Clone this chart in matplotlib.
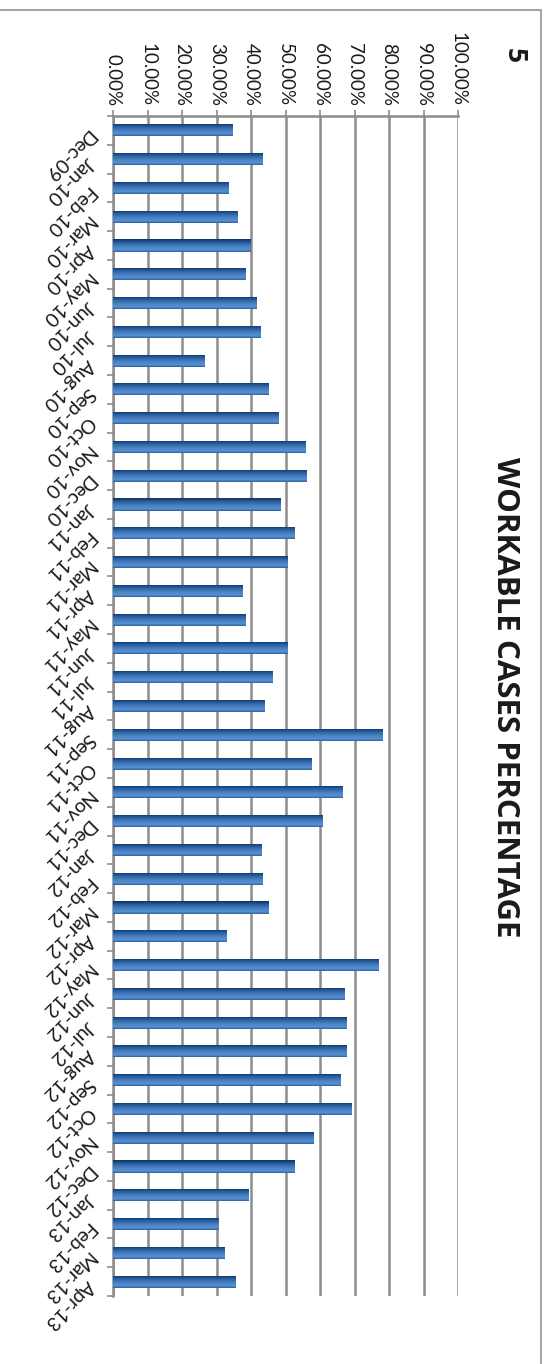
import numpy as np
import matplotlib
matplotlib.use("Agg")
from matplotlib import pyplot as plt
from matplotlib.colors import LinearSegmentedColormap
from matplotlib.patches import Rectangle
from matplotlib.transforms import offset_copy

months = ['Dec-09', 'Jan-10', 'Feb-10', 'Mar-10', 'Apr-10', 'May-10', 'Jun-10', 'Jul-10',
          'Aug-10', 'Sep-10', 'Oct-10', 'Nov-10', 'Dec-10', 'Jan-11', 'Feb-11', 'Mar-11',
          'Apr-11', 'May-11', 'Jun-11', 'Jul-11', 'Aug-11', 'Sep-11', 'Oct-11', 'Nov-11',
          'Dec-11', 'Jan-12', 'Feb-12', 'Mar-12', 'Apr-12', 'May-12', 'Jun-12', 'Jul-12',
          'Aug-12', 'Sep-12', 'Oct-12', 'Nov-12', 'Dec-12', 'Jan-13', 'Feb-13', 'Mar-13',
          'Apr-13']
workable = [34.7, 43.4, 33.6, 36.1, 39.9, 38.5, 41.7, 42.8,
            26.5, 45.2, 48.1, 55.7, 56.2, 48.5, 52.7, 50.5,
            37.6, 38.4, 50.7, 46.1, 43.8, 78.1, 57.6, 66.5,
            60.8, 43.0, 43.3, 45.0, 32.8, 77.0, 67.0, 67.6,
            67.8, 65.8, 69.2, 58.2, 52.5, 39.4, 30.7, 32.2,
            35.5]
pct_ticks = [0, 10, 20, 30, 40, 50, 60, 70, 80, 90, 100]

plt.rcParams['font.family'] = ['Lato', 'DejaVu Sans']

fig = plt.figure(figsize=(5.49, 13.64), dpi=100)
ax = fig.add_axes([113 / 549, 1 - 1296 / 1364, 345 / 549, 1180 / 1364])

y = np.arange(len(months))
bars = ax.barh(y, workable, height=0.42, color='#3d72b6', zorder=3)

# shaded fill for each bar, dark along the upper edge
shade = LinearSegmentedColormap.from_list(
    'shade', [(0, '#0c3360'), (0.25, '#285c9a'), (0.6, '#4a83c6'),
              (0.85, '#5690d0'), (1.0, '#2d62a2')])
grad = np.linspace(0, 1, 32).reshape(-1, 1)
for b in bars:
    x0, y0 = b.get_x(), b.get_y()
    w, h = b.get_width(), b.get_height()
    im = ax.imshow(grad, cmap=shade, aspect='auto', zorder=4,
                   extent=[x0, x0 + w, y0 + h, y0], interpolation='bilinear')
    im.set_clip_path(b)

ax.set_xlim(0, 100)
ax.set_ylim(len(months) - 0.5, -0.5)

ax.xaxis.tick_top()
ax.set_xticks(pct_ticks)
ax.set_xticklabels(['%.2f%%' % t for t in pct_ticks], rotation=-90,
                   ha='center', va='bottom', fontsize=13.5, color='#1a1a1a')
ax.tick_params(axis='x', length=4, width=1.2, color='#8c8c8c', pad=3)
ax.grid(axis='x', color='#8c8c8c', lw=1.8, zorder=1)

# month labels, slanted and reading down-left from the axis
ax.set_yticks(np.arange(len(months) + 1) - 0.5)
ax.set_yticklabels([])
ax.tick_params(axis='y', length=4, width=1.2, color='#8c8c8c')
lab_tr = offset_copy(ax.get_yaxis_transform(), fig=fig, x=-22, y=-1, units='dots')
for i, m in enumerate(months):
    ax.text(0, i, m, transform=lab_tr, rotation=225, rotation_mode='anchor',
            ha='left', va='center', fontsize=14, color='#1a1a1a')

for side in ['right', 'bottom']:
    ax.spines[side].set_visible(False)
for side in ['top', 'left']:
    ax.spines[side].set_color('#8c8c8c')
    ax.spines[side].set_linewidth(1.8)

fig.text(505 / 549, 1 - 697 / 1364, 'WORKABLE CASES PERCENTAGE', rotation=-90,
         ha='center', va='center', fontsize=22.5, fontweight='bold',
         family='Open Sans', color='#1a1a1a')
fig.text(514 / 549, 1 - 56 / 1364, '5', rotation=-90, ha='center', va='center',
         fontsize=19, fontweight='bold', family='Open Sans', color='#1a1a1a')

fig.patches.append(Rectangle((-0.02, -0.02), 541 / 549 + 0.02, (1364 - 10) / 1364 + 0.02,
                             transform=fig.transFigure, fill=False,
                             edgecolor='#a6a6a6', lw=1.5))

fig.savefig('out.png', dpi=100)
